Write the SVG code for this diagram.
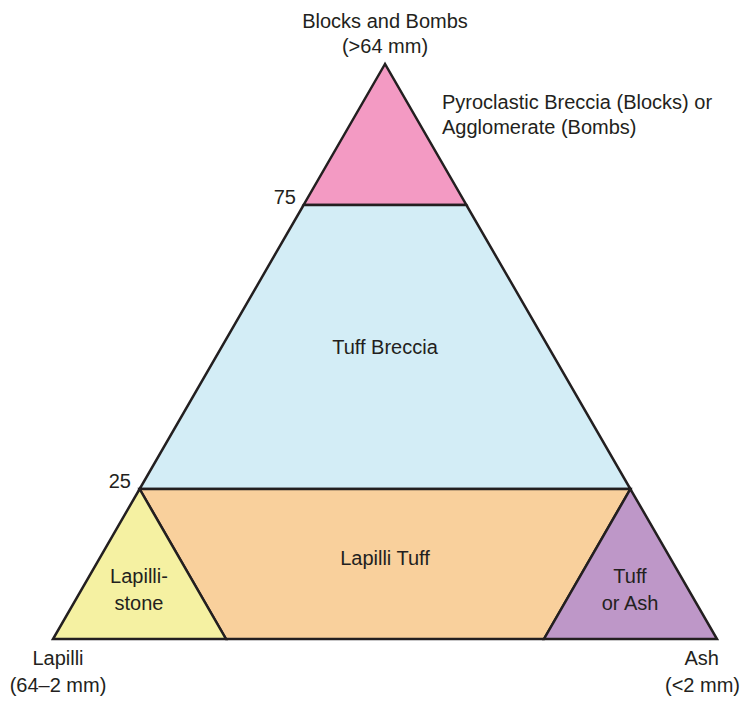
<svg xmlns="http://www.w3.org/2000/svg" width="743" height="702" viewBox="0 0 743 702">
<style>
.t{font-family:"Liberation Sans",Arial,sans-serif;font-size:20px;fill:#231f20}
.m{text-anchor:middle}
.e{text-anchor:end}
.r{stroke:#231f20;stroke-width:2.5;stroke-linejoin:miter}
</style>
<rect width="743" height="702" fill="#fff"/>
<g id="blocks"><polygon class="r" points="385,64 303.6,205 466.4,205" fill="#f39ac3"/></g>
<g id="tuff-breccia"><polygon class="r" points="303.6,205 466.4,205 630.4,489 139.6,489" fill="#d3edf6"/></g>
<g id="lapilli-tuff"><polygon class="r" points="139.6,489 630.4,489 544,639 226,639" fill="#f9d09c"/></g>
<g id="lapillistone"><polygon class="r" points="139.6,489 226,639 53,639" fill="#f5f1a2"/></g>
<g id="tuff-ash"><polygon class="r" points="630.4,489 717,639 544,639" fill="#be97c8"/></g>
<g id="labels">
<text class="t m" x="385" y="28">Blocks and Bombs</text>
<text class="t m" x="385" y="53">(&gt;64 mm)</text>
<text class="t" x="442" y="109">Pyroclastic Breccia (Blocks) or</text>
<text class="t" x="442" y="134">Agglomerate (Bombs)</text>
<text class="t e" x="296" y="204">75</text>
<text class="t e" x="131" y="488">25</text>
<text class="t m" x="385" y="354">Tuff Breccia</text>
<text class="t m" x="385" y="565">Lapilli Tuff</text>
<text class="t m" x="139" y="583">Lapilli-</text>
<text class="t m" x="139" y="610">stone</text>
<text class="t m" x="630" y="583">Tuff</text>
<text class="t m" x="630" y="610">or Ash</text>
<text class="t m" x="58" y="665">Lapilli</text>
<text class="t m" x="58" y="692">(64–2 mm)</text>
<text class="t e" x="719" y="665">Ash</text>
<text class="t e" x="740" y="692">(&lt;2 mm)</text>
</g>
</svg>
